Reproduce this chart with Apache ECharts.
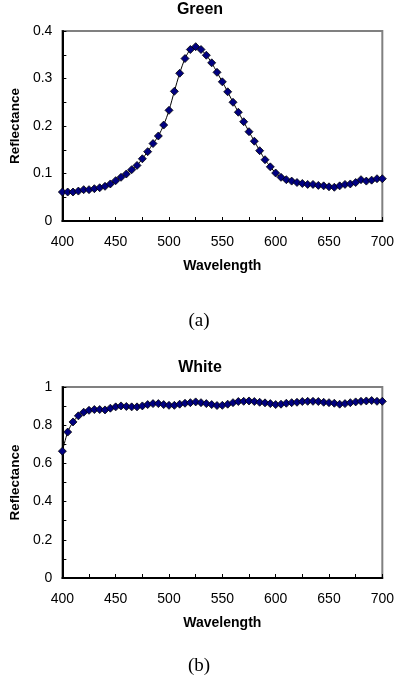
<!DOCTYPE html>
<html><head><meta charset="utf-8">
<script src="https://cdn.jsdelivr.net/npm/echarts@6/dist/echarts.min.js"></script>
<style>html,body{margin:0;padding:0;background:#fff}#c{width:397px;height:685px}</style>
</head><body><div id="c"></div>
<script>
const wavelengths = [400,405,410,415,420,425,430,435,440,445,450,455,460,465,470,475,480,485,490,495,500,505,510,515,520,525,530,535,540,545,550,555,560,565,570,575,580,585,590,595,600,605,610,615,620,625,630,635,640,645,650,655,660,665,670,675,680,685,690,695,700];
const greenValues = [0.061,0.061,0.061,0.063,0.066,0.066,0.068,0.070,0.073,0.078,0.085,0.092,0.099,0.108,0.117,0.131,0.146,0.163,0.179,0.202,0.233,0.273,0.311,0.342,0.361,0.367,0.361,0.349,0.333,0.313,0.293,0.272,0.250,0.229,0.209,0.188,0.168,0.148,0.129,0.114,0.101,0.092,0.087,0.084,0.081,0.079,0.077,0.077,0.075,0.074,0.072,0.071,0.074,0.077,0.078,0.081,0.087,0.084,0.086,0.089,0.089];
const whiteValues = [0.664,0.764,0.817,0.849,0.868,0.878,0.882,0.882,0.880,0.889,0.896,0.901,0.898,0.896,0.896,0.901,0.908,0.913,0.913,0.908,0.904,0.904,0.910,0.915,0.918,0.922,0.918,0.913,0.908,0.903,0.904,0.910,0.918,0.924,0.925,0.927,0.924,0.920,0.917,0.913,0.908,0.910,0.915,0.918,0.920,0.924,0.925,0.925,0.924,0.920,0.918,0.915,0.910,0.913,0.918,0.922,0.925,0.927,0.929,0.925,0.925];
const chartTitles = ['Green','White'];
const captions = ['(a)','(b)'];
const xName = 'Wavelength', yName = 'Reflectance';

const chart = echarts.init(document.getElementById('c'));
const font = 'Liberation Sans, Arial, sans-serif';
const serif = 'Liberation Serif, Times New Roman, serif';
function xAxis(i){return {type:'value',gridIndex:i,min:400,max:700,interval:50,
  name:xName,nameLocation:'middle',nameGap:38,nameTextStyle:{fontFamily:font,fontWeight:'bold',fontSize:14,color:'#000'},
  axisLine:{lineStyle:{color:'#000',width:2}},
  axisTick:{show:true,inside:true,length:4,lineStyle:{color:'#000'}},
  minorTick:{show:true,splitNumber:2,length:4,lineStyle:{color:'#000'}},
  axisLabel:{fontFamily:font,fontSize:14,color:'#000',margin:14},
  splitLine:{show:false}};}
function yAxis(i,max,intv){return {type:'value',gridIndex:i,min:0,max:max,interval:intv,
  name:yName,nameLocation:'middle',nameGap:36,nameTextStyle:{fontFamily:font,fontWeight:'bold',fontSize:13.5,color:'#000'},
  axisLine:{show:true,lineStyle:{color:'#000',width:2}},
  axisTick:{show:true,inside:true,length:4,lineStyle:{color:'#000'}},
  minorTick:{show:true,splitNumber:2,length:4,lineStyle:{color:'#000'}},
  axisLabel:{fontFamily:font,fontSize:14,color:'#000',margin:10},
  splitLine:{show:false}};}
function series(i,data){return {type:'line',xAxisIndex:i,yAxisIndex:i,
  data:wavelengths.map((w,k)=>[w,data[k]]),smooth:0.3,
  symbol:'diamond',symbolSize:8,
  lineStyle:{color:'#000',width:1},
  itemStyle:{color:'#000080',borderColor:'#000',borderWidth:0.8},
  animation:false};}
const titleStyle = {fontFamily:font,fontWeight:'bold',fontSize:16,color:'#000'};
const capStyle = {fontFamily:serif,fontWeight:'normal',fontSize:19,color:'#000'};
chart.setOption({
  animation:false,
  title:[
    {text:chartTitles[0],left:200,top:2,padding:0,textAlign:'center',textStyle:titleStyle},
    {text:chartTitles[1],left:200,top:360,padding:0,textAlign:'center',textStyle:titleStyle},
    {text:captions[0],left:199,top:312,padding:0,textAlign:'center',textStyle:capStyle},
    {text:captions[1],left:199,top:657,padding:0,textAlign:'center',textStyle:capStyle}
  ],
  grid:[
    {left:62,top:31,width:323,height:190,show:true,borderColor:'#808080',borderWidth:2,backgroundColor:'transparent'},
    {left:62,top:387,width:323,height:191,show:true,borderColor:'#808080',borderWidth:2,backgroundColor:'transparent'}
  ],
  xAxis:[xAxis(0),xAxis(1)],
  yAxis:[yAxis(0,0.4,0.1),yAxis(1,1,0.2)],
  series:[series(0,greenValues),series(1,whiteValues)]
});
</script></body></html>
